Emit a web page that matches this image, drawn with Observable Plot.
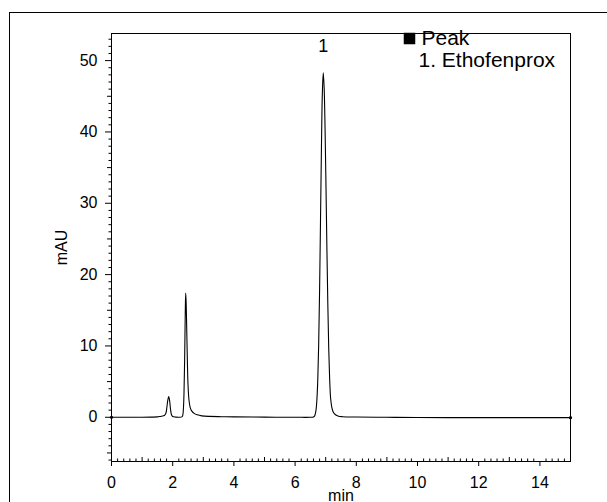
<!DOCTYPE html>
<html>
<head>
<meta charset="utf-8">
<script src="https://cdn.jsdelivr.net/npm/d3@7"></script>
<script src="https://cdn.jsdelivr.net/npm/@observablehq/plot@0.6"></script>
<style>
  html, body { margin: 0; padding: 0; background: #fff; }
  #wrap { position: relative; width: 607px; height: 502px; overflow: hidden; font-family: "Liberation Sans", Arial, sans-serif; }
  #outer { position: absolute; left: 9px; top: 12px; width: 700px; height: 600px; border-left: 1px solid #000; border-top: 1px solid #000; }
  #chart { position: absolute; left: 0; top: 0; }
</style>
</head>
<body>
<div id="wrap"><div id="outer"></div><div id="chart"></div></div>
<script>
// Chromatogram trace: retention time (min) and signal (mAU)
const times = [
  0, 0.5, 1.0, 1.3, 1.5, 1.6, 1.7, 1.74, 1.78, 1.81, 1.84, 1.87, 1.90, 1.93, 1.96, 2.00, 2.10, 2.20,
  2.30, 2.33, 2.35, 2.37, 2.39, 2.41, 2.425, 2.44, 2.46, 2.48, 2.50, 2.53, 2.57, 2.62, 2.70, 2.80, 2.95,
  3.2, 3.6, 4.0, 5.0, 6.0, 6.5, 6.60, 6.64, 6.68, 6.71, 6.74, 6.77, 6.80, 6.83, 6.86, 6.89, 6.92,
  6.95, 6.98, 7.01, 7.04, 7.07, 7.10, 7.13, 7.16, 7.20, 7.25, 7.32, 7.42, 7.55, 8.0, 9.0, 10.0, 11.0, 12.0, 13.0, 14.0, 15.0
];
const signal = [
  0, 0, 0, 0.02, 0.05, 0.12, 0.2, 0.3, 0.6, 1.4, 2.4, 2.9, 2.3, 1.1, 0.35, 0.1, 0.02, 0.0,
  0.05, 0.3, 1.2, 3.5, 8.0, 14.5, 17.4, 16.0, 12.0, 7.8, 4.6, 2.5, 1.4, 0.9, 0.55, 0.35, 0.2,
  0.12, 0.08, 0.05, 0.02, 0.0, 0.0, 0.05, 0.2, 0.9, 2.3, 5.1, 10.1, 17.7, 27.5, 37.5, 45.3, 48.3,
  46.1, 40.3, 32.2, 23.5, 15.7, 9.5, 5.3, 2.7, 1.4, 0.7, 0.35, 0.15, 0.08, 0.03, 0.0, -0.03, -0.05, -0.05, -0.05, -0.05, -0.05
];
const trace = times.map((t, i) => ({t, v: signal[i]}));

// Peak annotation and legend
const peakNumbers = ["1"];
const peakTimes = [6.92];
const peakHeights = [48.3];
const legendTitle = "Peak";
const legendEntries = ["1. Ethofenprox"];

// Axes
const xDomain = [0, 15];
const yDomain = [-6.2, 53.8];
const xMajorTicks = [0, 2, 4, 6, 8, 10, 12, 14];
const yMajorTicks = [0, 10, 20, 30, 40, 50];
const xLabel = "min";
const yLabel = "mAU";

const xMid = d3.range(1, 15, 2);
const xMinor = d3.range(0, 15.001, 0.2).filter(v => Math.abs(v - Math.round(v)) > 1e-6);
const yMid = d3.range(-5, 54, 5).filter(v => v % 10 !== 0);
const yMinor = d3.range(-6, 54, 1).filter(v => v % 5 !== 0);

const font = '"Liberation Sans", Arial, sans-serif';
const ends = [trace[0], trace[trace.length - 1]];

const chart = Plot.plot({
  width: 607,
  height: 502,
  marginLeft: 111,
  marginRight: 37,
  marginTop: 33,
  marginBottom: 41,
  style: {fontFamily: font, fontSize: "14px", color: "#000", background: "transparent", overflow: "visible"},
  x: {domain: xDomain},
  y: {domain: yDomain},
  marks: [
    Plot.frame({stroke: "#000", strokeWidth: 1}),
    Plot.axisX({ticks: xMinor, tickSize: -2.5, text: null, label: null, strokeWidth: 1}),
    Plot.axisX({ticks: xMid, tickSize: -4, text: null, label: null, strokeWidth: 1}),
    Plot.axisX({ticks: xMajorTicks, tickSize: 5, tickPadding: 10, tickFormat: d => String(d), fontSize: 16, label: xLabel, labelAnchor: "center", labelArrow: "none", labelOffset: 39, strokeWidth: 1}),
    Plot.axisY({ticks: yMinor, tickSize: 2.5, text: null, label: null, strokeWidth: 1}),
    Plot.axisY({ticks: yMid, tickSize: 4, text: null, label: null, strokeWidth: 1}),
    Plot.axisY({ticks: yMajorTicks, tickSize: 6, tickPadding: 8, tickFormat: d => String(d), fontSize: 16, label: yLabel, labelAnchor: "center", labelArrow: "none", labelOffset: 56, strokeWidth: 1}),
    Plot.line(trace, {x: "t", y: "v", stroke: "#000", strokeWidth: 1.1, curve: "catmull-rom"}),
    Plot.dot(ends, {x: "t", y: "v", r: 1.6, fill: "#000", stroke: null}),
    Plot.text(peakNumbers, {x: (d, i) => peakTimes[i], y: (d, i) => peakHeights[i], text: d => d, dy: -26, fontSize: 18, fill: "#000"}),
    Plot.dot([legendTitle], {frameAnchor: "top-left", dx: 298, dy: 5, symbol: "square", r: 6.5, fill: "#000", stroke: null}),
    Plot.text([legendTitle], {frameAnchor: "top-left", lineAnchor: "middle", text: d => d, dx: 310, dy: 5, fontSize: 21, textAnchor: "start", fill: "#000"}),
    Plot.text(legendEntries, {frameAnchor: "top-left", lineAnchor: "middle", text: d => d, dx: 307, dy: 27, fontSize: 21, textAnchor: "start", fill: "#000"})
  ]
});
document.getElementById("chart").appendChild(chart);
</script>
</body>
</html>
